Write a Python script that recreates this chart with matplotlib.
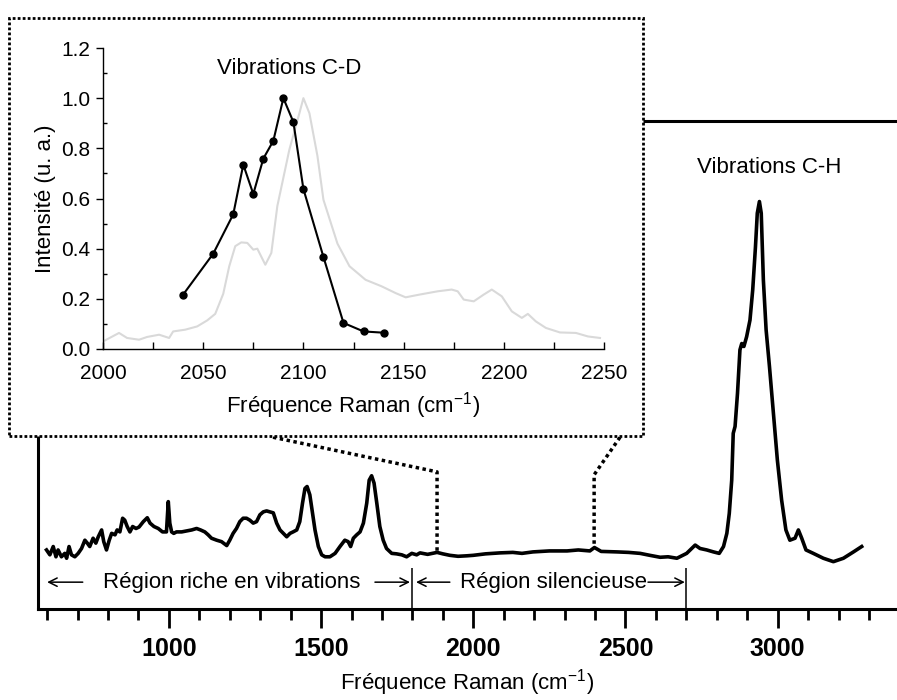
import matplotlib.pyplot as plt
from matplotlib.patches import Rectangle

plt.rcParams['font.family'] = ['Liberation Sans', 'DejaVu Sans']
plt.rcParams['mathtext.fontset'] = 'custom'
plt.rcParams['mathtext.rm'] = 'Liberation Sans'
plt.rcParams['mathtext.it'] = 'Liberation Sans:italic'

# main Raman spectrum (cm-1, arbitrary intensity)
shift = [598, 609, 620, 629, 636, 647, 658, 664, 672, 680,
         691, 702, 713, 724, 732, 740, 751, 760, 768, 779,
         786, 795, 804, 812, 823, 830, 839, 848, 855, 863,
         872, 881, 892, 902, 916, 929, 938, 951, 965, 979,
         992, 998, 1003, 1009, 1016, 1025, 1042, 1058, 1075, 1091,
         1104, 1118, 1129, 1140, 1157, 1173, 1190, 1200, 1211, 1222,
         1233, 1244, 1255, 1266, 1277, 1288, 1299, 1310, 1321, 1332,
         1343, 1354, 1365, 1376, 1387, 1398, 1408, 1420, 1430, 1439,
         1447, 1454, 1463, 1472, 1480, 1491, 1502, 1513, 1529, 1546,
         1562, 1578, 1589, 1597, 1606, 1617, 1628, 1639, 1650, 1658,
         1666, 1674, 1683, 1693, 1704, 1715, 1732, 1748, 1765, 1781,
         1798, 1814, 1825, 1850, 1881, 1900, 1923, 1950, 1979, 2000,
         2040, 2088, 2130, 2160, 2196, 2250, 2308, 2345, 2383, 2398,
         2420, 2472, 2510, 2548, 2580, 2614, 2640, 2669, 2701, 2729,
         2745, 2767, 2789, 2808, 2822, 2833, 2841, 2849, 2854, 2860,
         2868, 2876, 2882, 2889, 2898, 2909, 2918, 2927, 2933, 2940,
         2946, 2953, 2962, 2973, 2986, 2999, 3013, 3027, 3040, 3057,
         3068, 3079, 3093, 3117, 3150, 3183, 3216, 3249, 3276]
intensity = [12.1, 11.1, 12.8, 10.7, 12.1, 10.7, 11.4, 10.4, 12.8, 11.1,
             10.7, 11.4, 12.4, 14.1, 13.5, 12.8, 14.5, 13.5, 14.8, 16.2,
             13.8, 12.1, 14.1, 15.5, 15.2, 16.2, 15.8, 18.6, 18.2, 16.9,
             15.8, 16.9, 16.5, 16.8, 17.9, 18.7, 17.6, 16.9, 16.5, 15.8,
             15.8, 22.0, 17.6, 15.8, 15.5, 15.8, 15.8, 16.0, 16.2, 16.5,
             16.2, 15.8, 15.2, 14.5, 14.1, 13.8, 13.0, 14.1, 15.5, 16.5,
             17.9, 18.6, 18.6, 18.2, 17.6, 17.9, 19.3, 19.9, 20.1, 19.9,
             19.7, 17.6, 16.2, 15.5, 14.8, 15.5, 15.8, 16.2, 17.9, 21.7,
             24.7, 25.1, 23.4, 19.6, 16.2, 12.8, 11.1, 10.7, 10.7, 11.4,
             12.8, 14.1, 13.8, 12.8, 14.5, 15.2, 15.8, 17.6, 21.7, 26.4,
             27.3, 25.8, 21.7, 16.9, 14.1, 12.4, 11.4, 11.3, 11.1, 10.7,
             11.4, 11.1, 11.5, 11.2, 11.6, 11.3, 11.0, 10.8, 10.9, 11.0,
             11.3, 11.5, 11.6, 11.4, 11.7, 11.9, 11.9, 12.1, 11.9, 12.6,
             11.8, 11.7, 11.6, 11.4, 11.0, 10.6, 10.7, 10.4, 11.4, 13.1,
             12.4, 12.1, 11.7, 11.4, 12.8, 15.5, 19.6, 26.4, 36.0, 37.4,
             44.2, 53.1, 54.4, 53.8, 55.8, 59.2, 65.4, 74.2, 81.1, 83.5,
             81.1, 67.4, 57.2, 49.7, 40.1, 30.5, 22.3, 16.2, 14.1, 14.5,
             16.2, 14.5, 12.1, 11.4, 10.4, 9.7, 10.4, 11.7, 12.8]

# inset: C-D band (black, points) and reference spectrum (grey)
cd_shift = [2040, 2055, 2065, 2070, 2075, 2080, 2085, 2090, 2095, 2100, 2110, 2120, 2130, 2140]
cd_int = [0.217, 0.38, 0.537, 0.735, 0.618, 0.759, 0.83, 1.0, 0.905, 0.638, 0.367, 0.104, 0.07, 0.065]

ref_shift = [2000, 2008, 2012, 2018, 2022, 2028, 2033, 2035, 2041, 2047,
             2052, 2056, 2060, 2063, 2066, 2069, 2072, 2075, 2077, 2081,
             2084, 2087, 2093, 2098, 2100, 2103, 2107, 2110, 2117, 2123,
             2131, 2139, 2146, 2151, 2158, 2167, 2174, 2177, 2180, 2185,
             2190, 2194, 2199, 2204, 2209, 2212, 2216, 2221, 2228, 2236,
             2242, 2248]
ref_int = [0.03, 0.064, 0.044, 0.037, 0.048, 0.057, 0.044, 0.07, 0.077, 0.09,
           0.114, 0.14, 0.22, 0.33, 0.41, 0.425, 0.423, 0.396, 0.40, 0.336,
           0.383, 0.57, 0.795, 0.94, 1.0, 0.94, 0.77, 0.595, 0.42, 0.33,
           0.276, 0.25, 0.223, 0.206, 0.217, 0.23, 0.237, 0.23, 0.197, 0.19,
           0.217, 0.237, 0.21, 0.15, 0.124, 0.14, 0.11, 0.084, 0.066, 0.064,
           0.05, 0.044]

region_edges = [600, 1800, 2700]
region_names = ['Région riche en vibrations', 'Région silencieuse']
xlabel = 'Fréquence Raman (cm$^{\\mathrm{-1}}$)'

W, H = 897, 700


def box(l, t, r, b):
    # pixel box -> figure fraction [left, bottom, width, height]
    return [l / W, 1 - b / H, (r - l) / W, (b - t) / H]


fig = plt.figure(figsize=(W / 100, H / 100), dpi=100)

# ---- main spectrum
ax = fig.add_axes(box(38, 121, 897, 609))
ax.plot(shift, intensity, color='black', lw=2.6, solid_joinstyle='round')
ax.set_xlim(570, 3392)
ax.set_ylim(0, 100)
ax.spines['right'].set_visible(False)
for s in ['left', 'bottom', 'top']:
    ax.spines[s].set_linewidth(2.2)
ax.set_yticks([])
ax.set_xticks([1000, 1500, 2000, 2500, 3000])
ax.set_xticks(range(600, 3301, 100), minor=True)
ax.tick_params(axis='x', which='major', direction='out', length=13.5, width=2, pad=7, labelsize=18)
ax.tick_params(axis='x', which='minor', direction='out', length=8, width=2)
for lbl in ax.get_xticklabels():
    lbl.set_fontweight('bold')
ax.set_xlabel(xlabel, fontsize=16, labelpad=4)
ax.text(2972, 90.4, 'Vibrations C-H', fontsize=16, ha='center', va='center')

# region arrows
yr = 5.5
arrow = dict(arrowstyle='->,head_length=0.3,head_width=0.15', lw=1.1, color='black',
             shrinkA=0, shrinkB=0, mutation_scale=20)
ax.vlines(region_edges[1:], 0, 8.4, color='black', lw=1.1)
ax.annotate('', xy=(region_edges[0], yr), xytext=(717, yr), arrowprops=arrow)
ax.annotate('', xy=(region_edges[1] - 8, yr), xytext=(1677, yr), arrowprops=arrow)
ax.annotate('', xy=(region_edges[1] + 12, yr), xytext=(1923, yr), arrowprops=arrow)
ax.annotate('', xy=(region_edges[2] - 5, yr), xytext=(2574, yr), arrowprops=arrow)
ax.text(1207, yr, region_names[0], fontsize=16, ha='center', va='center')
ax.text(2262, yr, region_names[1], fontsize=16, ha='center', va='center')

# dotted connectors from the inset down to the spectrum
dots = dict(color='black', lw=2.5, linestyle=(0, (1, 1)), dash_capstyle='butt', clip_on=False)
ax.plot([1342, 1881, 1881], [35.2, 28.1, 11.5], **dots)
ax.plot([2482, 2397, 2397], [35.2, 27.5, 12.7], **dots)

# ---- inset
frame = Rectangle((9 / W, 1 - 436 / H), 634 / W, 418 / H, transform=fig.transFigure,
                  facecolor='white', edgecolor='black', lw=2, linestyle=(0, (1, 0.8)), zorder=2)
fig.add_artist(frame)

ins = fig.add_axes(box(103, 48, 604, 349), zorder=3)
ins.patch.set_alpha(0)
ins.plot(ref_shift, ref_int, color='#d9d9d9', lw=1.5)
ins.plot(cd_shift, cd_int, color='black', lw=1.5, marker='o', ms=5)
ins.set_xlim(2000, 2250)
ins.set_ylim(0, 1.2)
ins.spines['top'].set_visible(False)
ins.spines['right'].set_visible(False)
for s in ['left', 'bottom']:
    ins.spines[s].set_linewidth(1)
ins.set_xticks(range(2000, 2251, 50))
ins.set_xticks(range(2025, 2250, 50), minor=True)
yt = [0, 0.2, 0.4, 0.6, 0.8, 1.0, 1.2]
ins.set_yticks(yt)
ins.set_yticklabels([f'{v:.1f}' for v in yt])
ins.set_yticks([0.1, 0.3, 0.5, 0.7, 0.9, 1.1], minor=True)
ins.tick_params(axis='x', which='both', direction='in', length=5, width=1, pad=11, labelsize=15)
ins.tick_params(axis='y', which='major', direction='out', length=5, width=1, pad=4, labelsize=15)
ins.tick_params(axis='y', which='minor', direction='in', length=3, width=1)
ins.set_xlabel(xlabel, fontsize=16, labelpad=5)
ins.set_ylabel('Intensité (u. a.)', fontsize=16, labelpad=4)
ins.text(2093, 1.12, 'Vibrations C-D', fontsize=16, ha='center', va='center')

fig.savefig('out.png', dpi=100)
